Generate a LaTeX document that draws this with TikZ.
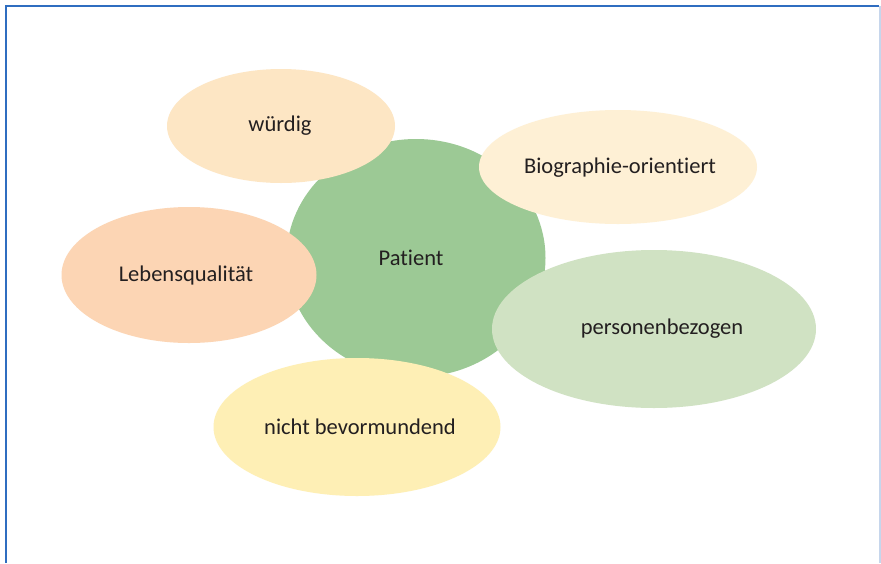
\documentclass[tikz,border=0pt]{standalone}
\usepackage{fontspec}
\setmainfont{Carlito}[Ligatures={NoCommon}]
\usetikzlibrary{shapes.geometric}
\definecolor{frame}{HTML}{2F6DC0}
\definecolor{frameR}{HTML}{C6D6EC}
\definecolor{cgreen}{HTML}{9CC995}
\definecolor{cwuerdig}{HTML}{FDE6C4}
\definecolor{cbio}{HTML}{FEF0D5}
\definecolor{cleben}{HTML}{FCD5B4}
\definecolor{cperson}{HTML}{D0E2C3}
\definecolor{cnicht}{HTML}{FEEFB5}
\definecolor{ctext}{HTML}{231F20}
\begin{document}
\begin{tikzpicture}[x=1pt,y=-1pt,
  blob/.style={ellipse, inner sep=0pt},
  lbl/.style={inner sep=0pt, text=ctext, font=\fontsize{22.5}{26}\selectfont},
]
\useasboundingbox (0,0) rectangle (881,563);
\fill[white] (0,0) rectangle (881,563);
% frame
\draw[frame, line width=2pt] (6,563) -- (6,6) -- (879,6);
\draw[frameR, line width=2pt] (880,6) -- (880,563);
% shapes
\node[blob, fill=cgreen, minimum width=259pt, minimum height=238pt] (patient) at (416,258) {};
\node[blob, fill=cwuerdig, minimum width=228pt, minimum height=114pt] (wuerdig) at (281,126) {};
\node[blob, fill=cbio, minimum width=278pt, minimum height=114pt] (bio) at (618,167) {};
\node[blob, fill=cleben, minimum width=255pt, minimum height=136pt] (leben) at (189,275) {};
\node[blob, fill=cperson, minimum width=324pt, minimum height=158pt] (person) at (654,329) {};
\node[blob, fill=cnicht, minimum width=287pt, minimum height=138pt] (nicht) at (357,427) {};
% labels
\node[lbl] (tpatient) at (411,258) {Patient};
\node[lbl] (twuerdig) at (280,126) {würdig};
\node[lbl] (tbio) at (620,168) {Biographie-orientiert};
\node[lbl] (tleben) at (186,275) {Lebensqualität};
\node[lbl] (tperson) at (662,329) {personenbezogen};
\node[lbl] (tnicht) at (360,427) {nicht bevormundend};
\end{tikzpicture}
\end{document}
